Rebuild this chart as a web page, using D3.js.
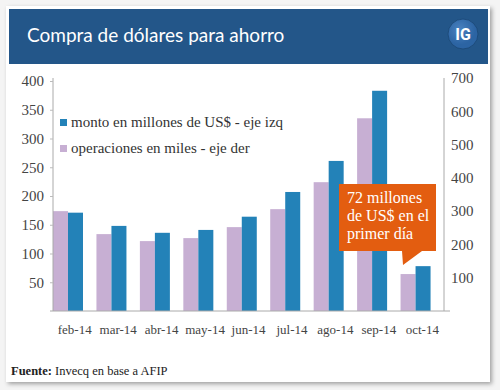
<!DOCTYPE html>
<html>
<head>
<meta charset="utf-8">
<script src="https://cdn.jsdelivr.net/npm/d3@7"></script>
<style>
  body { margin: 0; background: #f4f4f4; }
  svg { display: block; }
  .serif { font-family: "Liberation Serif", serif; }
</style>
</head>
<body>
<svg></svg>
<script>
"use strict";

const months = ["feb-14", "mar-14", "abr-14", "may-14", "jun-14", "jul-14", "ago-14", "sep-14", "oct-14"];
const monto = [171, 148, 136, 141, 164, 207, 261, 383, 78];        // millones de US$ (eje izq)
const operaciones = [300, 231, 210, 219, 252, 306, 387, 579, 111]; // miles (eje der)
const leftTicks = [50, 100, 150, 200, 250, 300, 350, 400];
const rightTicks = [100, 200, 300, 400, 500, 600, 700];
const seriesNames = ["monto en millones de US$ - eje izq", "operaciones en miles - eje der"];
const noteLines = ["72 millones", "de US$ en el", "primer día"];

const width = 500;
const height = 390;

const blue = "#2382b8";
const purple = "#c7afd3";
const orange = "#e35d10";

const svg = d3.select("svg").attr("width", width).attr("height", height);

const defs = svg.append("defs");
const shadow = defs.append("filter").attr("id", "shadow")
  .attr("x", "-5%").attr("y", "-5%").attr("width", "110%").attr("height", "110%");
shadow.append("feDropShadow").attr("dx", 2).attr("dy", 2).attr("stdDeviation", 2)
  .attr("flood-color", "#000").attr("flood-opacity", 0.35);

const igGrad = defs.append("radialGradient").attr("id", "ig").attr("cx", "40%").attr("cy", "35%");
igGrad.append("stop").attr("offset", "0%").attr("stop-color", "#4a82c0");
igGrad.append("stop").attr("offset", "100%").attr("stop-color", "#2c64a3");

// card + header
svg.append("rect").attr("x", 6).attr("y", 6).attr("width", 484).attr("height", 376)
  .attr("fill", "#fff").attr("filter", "url(#shadow)");
svg.append("rect").attr("x", 9).attr("y", 9).attr("width", 479).attr("height", 55)
  .attr("fill", "#235689");
svg.append("text").attr("x", 27).attr("y", 42)
  .style("font-family", "Lato, 'Open Sans', sans-serif").attr("font-size", 19)
  .attr("fill", "#fff").text("Compra de dólares para ahorro");
svg.append("circle").attr("cx", 463).attr("cy", 34).attr("r", 15)
  .attr("fill", "url(#ig)").attr("stroke", "#1b4673").attr("stroke-width", 0.8);
svg.append("text").attr("x", 463).attr("y", 40).attr("text-anchor", "middle")
  .style("font-family", "Roboto, sans-serif").attr("font-weight", "bold").attr("font-size", 16)
  .attr("fill", "#fff").text("IG");

// scales
const x0 = d3.scaleBand().domain(months).range([53, 444]).padding(0);
const x1 = d3.scaleBand().domain(["ops", "monto"]).range([0, 30]).padding(0);
const yLeft = d3.scaleLinear().domain([0, 400]).range([311, 81]);
const yRight = d3.scaleLinear().domain([0, 700]).range([311, 78]);

// bars
const groups = svg.append("g").selectAll("g").data(months).enter().append("g")
  .attr("transform", (d) => `translate(${x0(d)},0)`);

groups.append("rect")
  .attr("x", x1("ops")).attr("width", x1.bandwidth())
  .attr("y", (d, i) => yRight(operaciones[i]))
  .attr("height", (d, i) => yRight(0) - yRight(operaciones[i]))
  .attr("fill", purple);

groups.append("rect")
  .attr("x", x1("monto")).attr("width", x1.bandwidth())
  .attr("y", (d, i) => yLeft(monto[i]))
  .attr("height", (d, i) => yLeft(0) - yLeft(monto[i]))
  .attr("fill", blue);

// axes
const styleAxis = (g) => {
  g.attr("font-family", null);
  g.selectAll("path").attr("stroke", "#aaa");
  g.selectAll("line").attr("stroke", "#bbb");
  g.selectAll("text").attr("class", "serif").attr("fill", "#444");
};

svg.append("g")
  .attr("transform", "translate(53,0)")
  .call(d3.axisLeft(yLeft).tickValues(leftTicks).tickSize(3).tickPadding(6))
  .call((g) => g.select(".domain").attr("d", "M0,78V311"))
  .call(styleAxis)
  .selectAll("text").attr("font-size", 15);

svg.append("g")
  .attr("transform", "translate(444,0)")
  .call(d3.axisRight(yRight).tickValues(rightTicks).tickSize(0).tickPadding(7))
  .call((g) => g.select(".domain").attr("d", "M0,78V311H6"))
  .call(styleAxis)
  .selectAll("text").attr("font-size", 15);

svg.append("g")
  .attr("transform", "translate(0,311)")
  .call(d3.axisBottom(x0).tickSize(0).tickPadding(14))
  .call((g) => g.select(".domain").attr("d", "M50,0H444"))
  .call(styleAxis)
  .selectAll("text").attr("font-size", 13);

// legend
const legend = svg.append("g").selectAll("g").data(seriesNames).enter().append("g")
  .attr("transform", (d, i) => `translate(60,${119 + i * 26})`);
legend.append("rect").attr("width", 7).attr("height", 7)
  .attr("fill", (d, i) => (i === 0 ? blue : purple));
legend.append("text").attr("class", "serif").attr("x", 11).attr("y", 8)
  .attr("font-size", 15).attr("fill", "#333")
  .text((d) => d);

// annotation callout
const note = svg.append("g");
note.append("path")
  .attr("d", "M339,184H436V251H422L403,265L402,251H339Z")
  .attr("fill", orange);
note.selectAll("text").data(noteLines).enter().append("text")
  .attr("class", "serif")
  .attr("x", 347).attr("y", (d, i) => 203 + i * 18)
  .attr("font-size", 16).attr("fill", "#fff")
  .text((d) => d);

// source
const src = svg.append("text").attr("class", "serif").attr("x", 11).attr("y", 375)
  .attr("font-size", 12.5).attr("fill", "#222");
src.append("tspan").attr("font-weight", "bold").text("Fuente:");
src.append("tspan").text(" Invecq en base a AFIP");
</script>
</body>
</html>
